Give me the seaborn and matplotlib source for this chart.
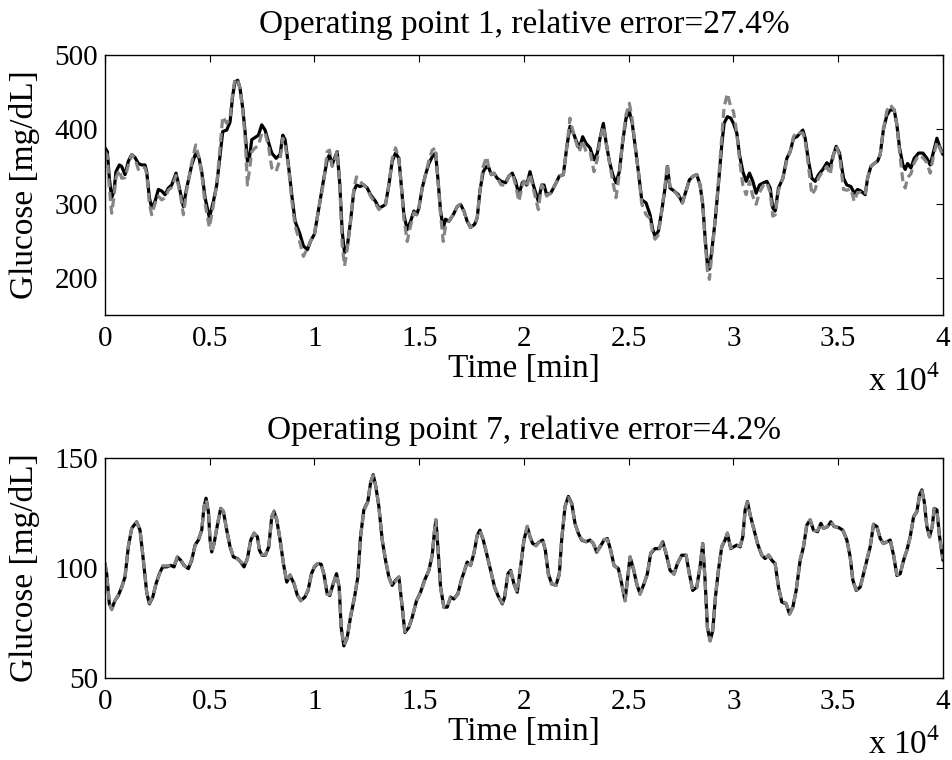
import matplotlib
matplotlib.use("Agg")
import numpy as np
import pandas as pd
import seaborn as sns
from matplotlib import pyplot as plt
from matplotlib.ticker import FuncFormatter

# ---- operating point 1 (time in minutes) ----
op1_time = [0, 111, 207, 318, 430, 525, 685, 796, 955, 1114,
            1274, 1433, 1592, 1751, 1911, 1990, 2117, 2229, 2388, 2547,
            2707, 2866, 3025, 3184, 3391, 3582, 3741, 3900, 4139, 4330,
            4489, 4617, 4776, 4983, 5174, 5333, 5461, 5620, 5811, 5970,
            6097, 6209, 6336, 6448, 6575, 6686, 6798, 6893, 7005, 7164,
            7323, 7482, 7642, 7801, 7960, 8167, 8358, 8486, 8597, 8756,
            8915, 9074, 9281, 9472, 9663, 9822,
            10000, 10207, 10446, 10605, 10716, 10844, 10955, 11083, 11210, 11321,
            11433, 11560, 11719, 11879, 12006, 12165, 12356, 12515, 12675, 12914,
            13073, 13232, 13391, 13550, 13709, 13869, 14028, 14139, 14267, 14426,
            14585, 14744, 14872, 14983, 15142, 15301, 15461, 15620, 15779, 15890,
            16018, 16145, 16257, 16416, 16623, 16814, 16973, 17132, 17291, 17450,
            17642, 17769, 17896, 18055, 18215, 18326, 18438, 18565, 18724, 18915,
            19122, 19281, 19441, 19600, 19759, 19918,
            20000, 20127, 20287, 20446, 20685, 20844, 20955, 21083, 21274, 21481,
            21688, 21879, 22038, 22197, 22356, 22515, 22643, 22802, 22961, 23152,
            23343, 23502, 23630, 23789, 23916, 24076, 24235, 24394, 24553, 24712,
            24872, 25031, 25158, 25301, 25461, 25620, 25827, 26018, 26145, 26257,
            26416, 26575, 26734, 26846, 26973, 27164, 27371, 27562, 27737, 27896,
            28087, 28247, 28406, 28533, 28645, 28756, 28851, 28963, 29122, 29281,
            29441, 29552, 29711, 29871,
            30000, 30159, 30287, 30446, 30605, 30764, 30924, 31083, 31242, 31433,
            31592, 31752, 31879, 31990, 32149, 32357, 32548, 32707, 32866, 33025,
            33184, 33312, 33423, 33582, 33742, 33901, 34060, 34267, 34458, 34617,
            34776, 34904, 35063, 35254, 35413, 35604, 35763, 35922, 36082, 36288,
            36400, 36559, 36718, 36878, 37005, 37164, 37323, 37482, 37673, 37801,
            37928, 38087, 38199, 38310, 38469, 38628, 38835, 39042, 39233, 39392,
            39552, 39711, 39838, 40000]

op1_measured = [375, 370, 334, 308, 317, 343, 352, 350, 339, 357,
                366, 362, 354, 352, 352, 343, 308, 294, 303, 319,
                317, 312, 321, 325, 341, 317, 296, 321, 352, 368,
                361, 343, 308, 281, 303, 325, 357, 397, 399, 410,
                446, 464, 466, 455, 428, 397, 357, 361, 386, 389,
                392, 406, 399, 383, 368, 361, 366, 392, 386, 352,
                312, 276, 261, 243, 238, 250,
                259, 294, 334, 359, 366, 352, 361, 370, 325, 263,
                234, 241, 276, 317, 325, 323, 325, 321, 312, 303,
                294, 296, 299, 325, 357, 368, 361, 325, 285, 265,
                276, 290, 285, 294, 321, 339, 354, 363, 368, 334,
                290, 267, 279, 276, 285, 296, 299, 290, 276, 268,
                272, 281, 317, 343, 350, 348, 339, 341, 334, 330,
                328, 337, 341, 330, 312, 328,
                330, 325, 343, 325, 303, 325, 325, 312, 314, 325,
                337, 339, 375, 404, 395, 383, 375, 390, 381, 375,
                359, 368, 388, 408, 383, 357, 339, 328, 343, 383,
                415, 424, 410, 379, 343, 305, 301, 285, 265, 256,
                263, 290, 321, 350, 321, 317, 312, 301, 317, 332,
                337, 339, 325, 299, 254, 218, 212, 236, 276, 325,
                379, 408, 417, 415,
                408, 395, 366, 343, 330, 341, 330, 314, 325, 328,
                330, 321, 294, 290, 321, 334, 361, 370, 388, 390,
                395, 399, 388, 357, 334, 330, 339, 346, 355, 350,
                366, 377, 368, 334, 325, 323, 314, 319, 317, 312,
                334, 350, 354, 357, 366, 401, 419, 426, 426, 406,
                375, 352, 346, 354, 348, 361, 368, 368, 361, 352,
                370, 388, 377, 366]

op1_model = [370, 365, 320, 287, 310, 335, 345, 334, 335, 352,
             366, 360, 346, 350, 348, 340, 300, 285, 300, 310,
             305, 308, 318, 322, 338, 315, 285, 318, 355, 379,
             362, 340, 300, 268, 298, 325, 365, 417, 408, 415,
             450, 468, 466, 455, 425, 390, 325, 345, 370, 375,
             378, 395, 395, 378, 348, 343, 360, 388, 380, 350,
             305, 270, 250, 229, 240, 250,
             259, 294, 330, 370, 372, 350, 358, 370, 325, 245,
             216, 238, 276, 320, 336, 330, 325, 320, 310, 300,
             292, 296, 299, 325, 360, 375, 361, 325, 280, 249,
             270, 288, 285, 294, 321, 339, 358, 372, 375, 334,
             285, 249, 270, 276, 285, 296, 299, 290, 276, 268,
             272, 281, 317, 350, 363, 348, 339, 341, 334, 325,
             325, 337, 341, 325, 303, 325,
             330, 322, 340, 320, 292, 325, 320, 310, 314, 325,
             337, 339, 375, 415, 395, 380, 370, 385, 370, 370,
             343, 360, 388, 404, 383, 357, 330, 308, 340, 385,
             420, 435, 415, 379, 343, 300, 285, 280, 260, 252,
             258, 290, 325, 354, 321, 317, 310, 301, 317, 332,
             337, 339, 325, 299, 250, 210, 198, 230, 276, 330,
             390, 430, 448, 430,
             424, 395, 360, 325, 312, 330, 310, 299, 315, 325,
             328, 315, 283, 285, 318, 334, 358, 370, 390, 397,
             395, 395, 385, 350, 312, 319, 335, 343, 350, 339,
             366, 377, 365, 319, 318, 320, 303, 315, 315, 312,
             334, 350, 354, 357, 366, 401, 425, 433, 426, 406,
             370, 330, 321, 335, 340, 355, 365, 362, 355, 341,
             365, 383, 375, 365]

# ---- operating point 7 ----
op7_time = [0, 80, 207, 318, 478, 637, 796, 955, 1114, 1274,
            1512, 1672, 1831, 1990, 2117, 2277, 2436, 2595, 2754, 2945,
            3136, 3295, 3455, 3614, 3773, 3980, 4139, 4298, 4458, 4617,
            4728, 4824, 4935, 5015, 5094, 5206, 5365, 5524, 5652, 5811,
            5970, 6129, 6320, 6479, 6639, 6798, 6957, 7116, 7275, 7371,
            7498, 7657, 7817, 7960, 8071, 8199, 8358, 8517, 8676, 8835,
            9026, 9185, 9344, 9535, 9694, 9854,
            10000, 10159, 10318, 10446, 10605, 10732, 10892, 11051, 11178, 11274,
            11401, 11560, 11719, 11910, 12070, 12197, 12356, 12547, 12675, 12802,
            12929, 13073, 13232, 13391, 13550, 13709, 13869, 14028, 14187, 14314,
            14505, 14665, 14872, 15063, 15254, 15461, 15620, 15731, 15795, 15890,
            16018, 16177, 16336, 16495, 16654, 16846, 17005, 17164, 17291, 17450,
            17610, 17769, 17896, 18055, 18215, 18406, 18597, 18756, 18963, 19074,
            19233, 19361, 19520, 19679, 19838,
            20000, 20159, 20287, 20414, 20573, 20732, 20892, 21019, 21162, 21321,
            21528, 21688, 21799, 21958, 22117, 22277, 22436, 22595, 22754, 22961,
            23152, 23311, 23471, 23630, 23821, 23980, 24139, 24298, 24505, 24665,
            24824, 24935, 25063, 25222, 25381, 25540, 25731, 25890, 26050, 26257,
            26463, 26623, 26782, 26973, 27164, 27323, 27530, 27737, 27896, 28055,
            28247, 28406, 28533, 28645, 28756, 28883, 29010, 29138, 29281, 29441,
            29600, 29711, 29871,
            30000, 30159, 30318, 30446, 30557, 30669, 30796, 30987, 31146, 31353,
            31512, 31672, 31831, 31990, 32149, 32308, 32515, 32675, 32834, 32993,
            33184, 33343, 33502, 33662, 33821, 34012, 34171, 34298, 34489, 34648,
            34808, 35015, 35222, 35413, 35572, 35700, 35859, 36050, 36209, 36368,
            36527, 36686, 36846, 37005, 37164, 37323, 37482, 37642, 37801, 37960,
            38119, 38278, 38438, 38597, 38756, 38883, 38994, 39106, 39233, 39361,
            39488, 39584, 39711, 39838, 40000]

op7_measured = [102.0, 97.4, 83.7, 81.4, 85.2, 87.5, 91.3, 95.9, 109.6, 118.0,
                121.0, 117.2, 103.5, 89.0, 83.7, 86.7, 92.8, 97.4, 100.5, 100.5,
                101.2, 100.5, 105.0, 103.5, 101.2, 99.7, 103.5, 110.4, 112.7, 117.2,
                127.9, 131.7, 125.6, 112.7, 107.3, 111.1, 119.5, 127.1, 125.6, 117.2,
                109.6, 105.0, 104.3, 102.7, 100.5, 104.3, 112.7, 115.7, 114.2, 108.1,
                105.8, 105.8, 109.6, 123.3, 125.6, 121.8, 112.7, 102.0, 93.6, 96.6,
                92.8, 87.5, 85.2, 86.7, 89.8, 97.4,
                100.5, 102.0, 101.7, 97.4, 88.3, 87.5, 92.8, 97.4, 91.3, 73.0,
                64.6, 68.4, 77.6, 86.7, 95.9, 114.2, 126.4, 130.2, 138.6, 142.4,
                137.0, 127.9, 112.7, 103.5, 95.9, 92.1, 94.4, 95.9, 82.2, 70.7,
                73.0, 77.6, 85.2, 89.0, 94.4, 98.9, 105.8, 117.2, 121.8, 109.6,
                91.3, 82.2, 82.2, 86.7, 85.9, 88.3, 94.4, 98.9, 102.7, 101.2,
                106.6, 114.9, 117.2, 112.7, 106.6, 98.9, 91.3, 87.5, 83.7, 86.7,
                97.4, 98.9, 92.8, 89.0, 100.5,
                112.7, 118.8, 114.2, 111.1, 110.4, 111.9, 112.7, 108.1, 97.4, 92.8,
                92.1, 97.4, 112.7, 127.9, 132.5, 129.4, 120.3, 115.7, 112.7, 111.9,
                112.7, 111.1, 107.3, 109.6, 112.7, 113.4, 108.1, 101.2, 99.7, 92.8,
                85.2, 94.4, 105.0, 99.7, 92.8, 88.3, 92.8, 97.4, 106.6, 108.8,
                108.8, 111.9, 106.6, 98.9, 97.4, 102.0, 105.8, 105.8, 97.4, 89.8,
                91.3, 100.5, 111.1, 94.4, 73.0, 66.9, 71.5, 86.7, 98.9, 109.6,
                112.7, 115.7, 108.8,
                109.6, 110.4, 109.6, 114.2, 126.4, 130.2, 124.1, 117.2, 111.1, 105.8,
                104.3, 105.8, 103.5, 102.0, 91.3, 84.5, 83.7, 79.1, 82.2, 89.8,
                103.5, 109.6, 119.5, 121.8, 117.2, 116.5, 120.3, 118.0, 118.8, 121.0,
                118.8, 118.4, 117.2, 112.7, 105.0, 94.4, 89.8, 91.3, 97.4, 103.5,
                109.6, 119.8, 118.8, 113.4, 111.1, 111.9, 112.7, 105.8, 96.6, 97.4,
                103.5, 108.1, 114.2, 123.3, 125.6, 133.2, 135.5, 130.2, 118.8, 114.2,
                118.8, 127.1, 126.4, 114.2, 103.5]

op7_model = [102, 97, 84, 81, 85, 88, 91, 96, 110, 118,
             121, 117, 104, 89, 84, 87, 93, 97, 101, 101,
             101, 101, 105, 104, 101, 100, 104, 110, 113, 117,
             128, 131, 126, 113, 107, 111, 120, 127, 126, 117,
             110, 105, 104, 103, 101, 104, 113, 116, 114, 108,
             106, 106, 110, 123, 126, 122, 113, 102, 94, 97,
             93, 88, 85, 87, 90, 97,
             101, 102, 102, 97, 88, 88, 93, 97, 91, 73,
             65, 68, 78, 87, 96, 114, 126, 130, 139, 142,
             137, 128, 113, 104, 96, 92, 94, 96, 82, 71,
             73, 78, 85, 89, 94, 99, 106, 117, 122, 110,
             91, 82, 82, 87, 86, 88, 94, 99, 103, 101,
             107, 115, 117, 113, 107, 99, 91, 88, 84, 87,
             97, 99, 93, 89, 101,
             113, 119, 114, 111, 110, 112, 113, 108, 97, 93,
             92, 97, 113, 128, 132, 129, 120, 116, 113, 112,
             113, 111, 107, 110, 113, 113, 108, 101, 100, 93,
             85, 94, 105, 100, 93, 88, 93, 97, 107, 109,
             109, 112, 107, 99, 97, 102, 106, 106, 97, 90,
             91, 101, 111, 94, 73, 67, 72, 87, 99, 110,
             113, 116, 109,
             110, 110, 110, 114, 126, 130, 124, 117, 111, 106,
             104, 106, 104, 102, 91, 85, 84, 79, 82, 90,
             104, 110, 120, 122, 117, 117, 120, 118, 119, 121,
             119, 118, 117, 113, 105, 94, 90, 91, 97, 104,
             110, 120, 119, 113, 111, 112, 113, 106, 97, 97,
             104, 108, 114, 123, 126, 133, 135, 130, 119, 114,
             119, 127, 126, 114, 104]

titles = ["Operating point 1, relative error=27.4%",
          "Operating point 7, relative error=4.2%"]
y_ranges = [(150, 500), (50, 150)]
y_ticks = [[200, 300, 400, 500], [50, 100, 150]]
x_ticks = [0, 5000, 10000, 15000, 20000, 25000, 30000, 35000, 40000]

sns.set_style("white")
plt.rcParams["font.family"] = ["Liberation Serif", "DejaVu Serif"]
plt.rcParams["mathtext.fontset"] = "custom"
plt.rcParams["mathtext.rm"] = "Liberation Serif"
plt.rcParams["text.color"] = "black"
plt.rcParams["axes.labelcolor"] = "black"

fig = plt.figure(figsize=(9.52, 7.6), dpi=100)
ax1 = fig.add_axes([0.1103, 0.5855, 0.8802, 0.3421])
ax2 = fig.add_axes([0.1103, 0.1079, 0.8802, 0.2895])

sets = [(ax1, op1_time, op1_measured, op1_model),
        (ax2, op7_time, op7_measured, op7_model)]

for i, (ax, t, meas, mod) in enumerate(sets):
    df = pd.DataFrame({"t": t, "meas": meas, "model": mod})
    sns.lineplot(data=df, x="t", y="meas", ax=ax, color="black", lw=2.3,
                 estimator=None, sort=False)
    sns.lineplot(data=df, x="t", y="model", ax=ax, color="#858585", lw=2.3,
                 estimator=None, sort=False)
    ax.lines[-1].set_dashes((2.8, 1.5))
    ax.set_xlim(0, 40000)
    ax.set_ylim(*y_ranges[i])
    ax.set_xticks(x_ticks)
    ax.set_yticks(y_ticks[i])
    ax.xaxis.set_major_formatter(FuncFormatter(lambda v, p: "%g" % (v / 1e4)))
    ax.tick_params(direction="in", top=True, right=True, length=5, width=0.8,
                   labelsize=21, colors="black")
    ax.tick_params(axis="x", pad=8)
    ax.tick_params(axis="y", pad=5)
    for s in ax.spines.values():
        s.set_linewidth(1.0)
        s.set_color("black")
    ax.set_title(titles[i], fontsize=24, pad=16 if i == 0 else 14)
    ax.set_xlabel("Time [min]", fontsize=24, labelpad=1)
    ax.set_ylabel("Glucose [mg/dL]", fontsize=24)
    ax.yaxis.set_label_coords(-0.078, 0.5)
    ax.annotate(r"x 10$^{\mathrm{4}}$", xy=(1, 0), xycoords="axes fraction",
                xytext=(-2, -55), textcoords="offset points",
                ha="right", va="baseline", fontsize=24)

fig.savefig("out.png", dpi=100)
